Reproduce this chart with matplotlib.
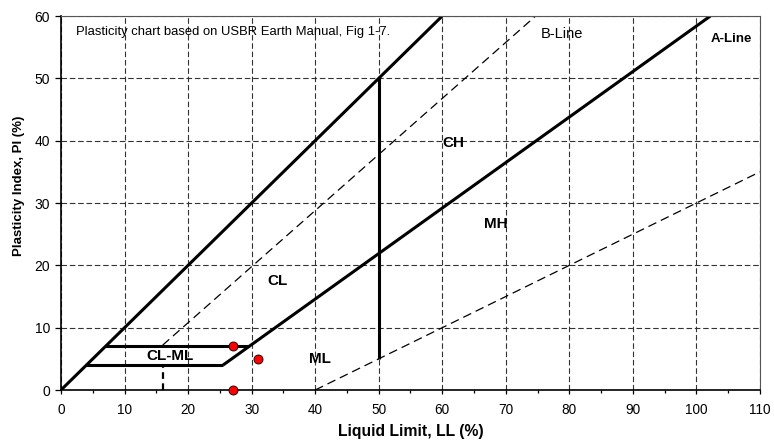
import matplotlib
matplotlib.use("Agg")
import matplotlib.pyplot as plt
from matplotlib.ticker import MultipleLocator

plt.rcParams["font.family"] = ["Liberation Sans", "DejaVu Sans"]

# chart boundaries (LL, PI)
upper_ll = [0, 60]
upper_pi = [0, 60]
a_line_ll = [25.5, 102.2]
a_line_pi = [4, 60]
b_line_ll = [16, 74.7]
b_line_pi = [7.2, 60]
low_line_ll = [40, 110]
low_line_pi = [0, 35]
ll50_ll = [50, 50]
ll50_pi = [5, 50]
clml_top_ll = [7, 29.6]
clml_top_pi = [7, 7]
clml_bot_ll = [4, 25.5]
clml_bot_pi = [4, 4]
ll16_ll = [16, 16]
ll16_pi = [0, 4]

# test results
sample_ll = [27, 31, 27]
sample_pi = [7, 5, 0]

zone_names = ["CL", "CH", "MH", "ML", "CL-ML"]
zone_ll = [34.0, 61.7, 68.5, 40.7, 17.1]
zone_pi = [17.5, 39.7, 26.6, 5.0, 5.5]

fig = plt.figure(figsize=(7.74, 4.41), dpi=100)
ax = fig.add_axes([0.0788, 0.1156, 0.903, 0.848])

solid = dict(color="black", lw=2.2, solid_capstyle="butt")
dashed = dict(color="black", lw=0.9, linestyle=(0, (7, 4)))

ax.plot(upper_ll, upper_pi, **solid)
ax.plot(a_line_ll, a_line_pi, **solid)
ax.plot(ll50_ll, ll50_pi, **solid)
ax.plot(clml_top_ll, clml_top_pi, **solid)
ax.plot(clml_bot_ll, clml_bot_pi, **solid)
ax.plot(b_line_ll, b_line_pi, **dashed)
ax.plot(low_line_ll, low_line_pi, **dashed)
ax.plot(ll16_ll, ll16_pi, color="black", lw=1.6, linestyle=(0, (3, 2)))

ax.plot(sample_ll, sample_pi, "o", color="red", markeredgecolor="black",
        markeredgewidth=0.6, markersize=6.5, clip_on=False, zorder=5)

for name, x, y in zip(zone_names, zone_ll, zone_pi):
    ax.text(x, y, name, ha="center", va="center", fontsize=11, fontweight="bold")

ax.text(105.5, 56.3, "A-Line", ha="center", va="center", fontsize=9.5, fontweight="bold")
ax.text(78.8, 57.1, "B-Line", ha="center", va="center", fontsize=10.5)
ax.text(2.4, 57.4, "Plasticity chart based on USBR Earth Manual, Fig 1-7.",
        ha="left", va="center", fontsize=9.4)

ax.set_xlim(0, 110)
ax.set_ylim(0, 60)
ax.xaxis.set_major_locator(MultipleLocator(10))
ax.xaxis.set_minor_locator(MultipleLocator(5))
ax.yaxis.set_major_locator(MultipleLocator(10))
ax.tick_params(which="both", direction="out", width=0.9)
ax.tick_params(axis="x", which="major", length=3, pad=6, labelsize=9.8)
ax.tick_params(axis="x", which="minor", length=2.5)
ax.tick_params(axis="y", which="major", length=4.3, pad=3.5, labelsize=10)

ax.grid(True, which="major", color="#333333", lw=0.8, linestyle=(0, (5, 2.5)))
ax.set_axisbelow(True)

for side in ("left", "bottom"):
    ax.spines[side].set_linewidth(1.2)
for side in ("top", "right"):
    ax.spines[side].set_linewidth(0.8)
    ax.spines[side].set_color("#555555")

ax.set_xlabel("Liquid Limit, LL (%)", fontsize=11.3, fontweight="bold")
ax.xaxis.set_label_coords(0.5, -0.092)
ax.set_ylabel("Plasticity Index, PI (%)", fontsize=9.5, fontweight="bold")
ax.yaxis.set_label_coords(-0.051, 0.545)

fig.savefig("out.png", dpi=100)
